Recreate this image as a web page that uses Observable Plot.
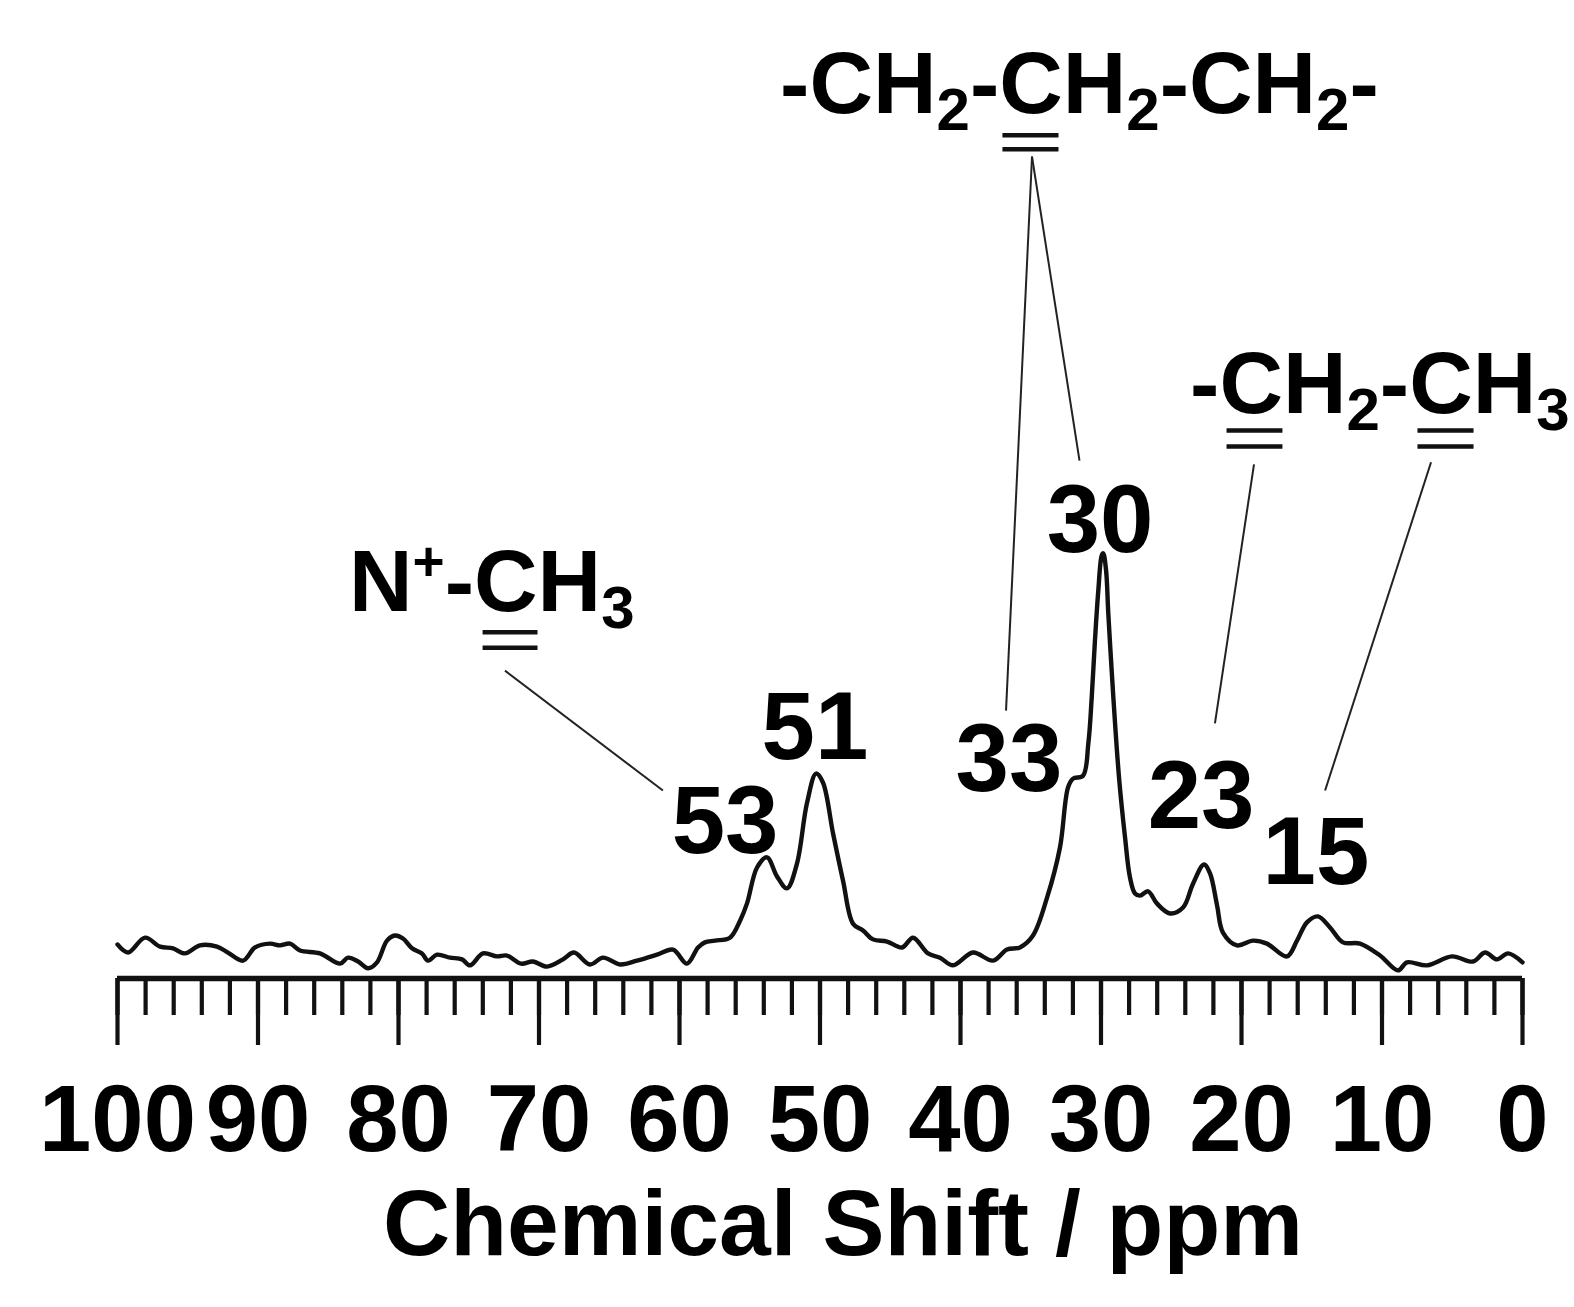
<!DOCTYPE html>
<html>
<head>
<meta charset="utf-8">
<script src="https://cdn.jsdelivr.net/npm/d3@7"></script>
<script src="https://cdn.jsdelivr.net/npm/@observablehq/plot@0.6"></script>
<style>
  html, body { margin: 0; padding: 0; background: #fff; }
  #chart { width: 1574px; height: 1307px; overflow: hidden; }
</style>
</head>
<body>
<div id="chart"></div>
<script>
// ---- Spectrum (13C NMR), chemical shift in ppm, intensity normalised so the 30 ppm peak = 100
const shiftPpm = [
  100.00, 99.25, 98.04, 96.97, 96.05, 95.20, 94.13, 92.92, 92.14, 91.07,
  90.21, 89.15, 88.43, 87.72, 87.01, 85.59, 84.16, 83.59, 82.88, 82.17,
  81.53, 80.82, 80.25, 79.68, 79.04, 78.33, 77.90, 77.26, 76.33, 75.48,
  74.91, 73.99, 72.99, 72.28, 71.28, 70.43, 69.43, 68.29, 67.51, 66.37,
  65.44, 64.23, 63.02, 61.60, 60.46, 59.47, 58.68, 58.19, 57.47, 56.41,
  55.69, 55.20, 54.48, 53.77, 53.06, 52.35, 51.64, 50.93, 50.28, 49.79,
  49.07, 48.36, 47.65, 46.94, 46.23, 45.23, 44.16, 43.38, 42.31, 41.46,
  40.53, 39.11, 37.69, 36.69, 35.77, 34.84, 33.84, 32.92, 32.35, 31.99,
  31.28, 30.90, 30.66, 30.43, 30.19, 29.95, 29.84, 29.64, 29.48, 29.24,
  29.00, 28.70, 28.29, 27.94, 27.58, 27.22, 26.65, 26.01, 25.09, 24.16,
  23.45, 22.67, 22.24, 21.74, 21.32, 20.32, 19.18, 18.19, 16.76, 16.05,
  15.34, 14.56, 13.70, 12.78, 11.57, 10.14, 8.86, 8.22, 6.80, 5.02,
  3.52, 2.67, 1.81, 1.03, 0.00
];
const intensity = [
  8.0, 6.1, 9.6, 7.5, 7.1, 5.9, 7.8, 7.5, 6.1, 4.2,
  7.3, 8.2, 7.8, 8.2, 6.6, 5.9, 3.5, 4.9, 4.0, 2.4,
  3.8, 8.9, 10.1, 9.4, 7.1, 5.9, 4.2, 5.6, 4.9, 4.5,
  3.1, 5.9, 5.2, 5.4, 3.5, 4.0, 2.8, 4.5, 6.1, 3.3,
  4.9, 3.3, 4.2, 5.6, 6.8, 3.5, 7.3, 8.5, 8.9, 9.6,
  13.6, 17.6, 26.1, 28.5, 24.0, 21.2, 27.0, 41.2, 48.2, 46.1,
  34.1, 23.0, 12.9, 11.3, 9.2, 8.7, 7.3, 9.6, 5.9, 4.9,
  3.1, 6.1, 4.2, 6.8, 7.3, 10.1, 19.0, 30.8, 44.9, 47.0,
  47.7, 55.3, 66.1, 79.5, 91.3, 99.5, 100.0, 96.0, 85.8, 72.4,
  60.0, 46.6, 33.2, 23.8, 20.0, 19.5, 20.5, 17.6, 15.3, 16.7,
  22.3, 26.8, 24.7, 17.2, 10.8, 7.8, 8.9, 8.2, 5.2, 8.9,
  13.2, 14.6, 12.0, 8.5, 8.2, 5.4, 1.9, 3.8, 3.1, 5.2,
  4.0, 6.1, 4.5, 5.9, 3.8
];

// ---- Axis
const majorTicks = [100, 90, 80, 70, 60, 50, 40, 30, 20, 10, 0];
const minorTicks = d3.range(0, 101, 2);
const xTitle = "Chemical Shift / ppm";

// ---- Peak labels
const peakLabels   = ["53", "51", "33", "30", "23", "15"];
const peakLabelPpm = [56.76, 50.36, 36.55, 30.07, 22.88, 14.70];
const peakLabelY   = [36.8, 58.9, 51.4, 107.6, 42.7, 29.5];

// ---- Structural formulas (_x = subscript, ^x = superscript)
const formulaText = ["-CH_2-CH_2-CH_2-", "N^+-CH_3", "-CH_2-CH_3"];
const formulaPpm  = [52.84, 83.52, 23.66];
const formulaY    = [203.6, 86.5, 133.1];

// ---- Double underlines under the assigned carbons
const underlineFrom = [36.98, 36.98, 73.98, 73.98, 21.03, 21.03, 7.44, 7.44];
const underlineTo   = [32.99, 32.99, 70.07, 70.07, 17.05, 17.05, 3.45, 3.45];
const underlineY    = [198.3, 195.0, 81.4, 77.8, 128.9, 125.1, 128.9, 125.1];

// ---- Leader lines (formula -> peak label)
const leaderPpm1 = [72.42, 34.91, 34.91, 19.11, 6.51];
const leaderY1   = [72.4, 193.3, 193.3, 120.9, 121.4];
const leaderPpm2 = [61.18, 36.76, 31.53, 21.89, 14.05];
const leaderY2   = [44.2, 63.0, 121.8, 60.0, 44.2];

// ---- Build tables
const spectrum = shiftPpm.map((p, i) => ({ppm: p, v: intensity[i]}));
const labels = peakLabels.map((t, i) => ({t, x: peakLabelPpm[i], y: peakLabelY[i]}));
const formulas = formulaText.map((t, i) => ({t, x: formulaPpm[i], y: formulaY[i]}));
const underlines = underlineY.map((y, i) => ({y, a: underlineFrom[i], b: underlineTo[i]}));
const leaders = leaderPpm1.map((p, i) => ({x1: p, y1: leaderY1[i], x2: leaderPpm2[i], y2: leaderY2[i]}));

const FONT = "'Liberation Sans', Arial, Helvetica, sans-serif";

const chart = Plot.plot({
  width: 1574,
  height: 1307,
  marginLeft: 117,
  marginRight: 52,
  marginTop: 0,
  marginBottom: 329,
  x: {domain: [100, 0]},
  y: {domain: [0, 230], axis: null},
  style: {fontFamily: FONT, fontWeight: "bold", background: "#fff", color: "#000", fontSize: "88px"},
  marks: [
    Plot.axisX({ticks: minorTicks, tickSize: 37, tickFormat: () => "", strokeWidth: 4.2,
                stroke: "#111", label: null}),
    Plot.axisX({ticks: majorTicks, tickSize: 67, tickPadding: 39, strokeWidth: 4.2, stroke: "#111",
                label: null, fontSize: 94, tickFormat: d => String(d)}),
    Plot.ruleY([0], {strokeWidth: 5.5, stroke: "#111"}),
    Plot.line(spectrum, {x: "ppm", y: "v", curve: "catmull-rom", stroke: "#111",
                         strokeWidth: 4.4, strokeLinejoin: "round"}),
    Plot.link(leaders, {x1: "x1", y1: "y1", x2: "x2", y2: "y2", stroke: "#222", strokeWidth: 2}),
    Plot.ruleY(underlines, {y: "y", x1: "a", x2: "b", strokeWidth: 4.5, stroke: "#111"}),
    Plot.text(labels, {x: "x", y: "y", text: "t", fontSize: 96, lineAnchor: "middle", fill: "#000"}),
    Plot.text(formulas, {x: "x", y: "y", text: "t", fontSize: 88, textAnchor: "start",
                         lineAnchor: "bottom", fill: "#000"}),
    Plot.text([xTitle], {frameAnchor: "bottom", text: d => d, dx: 23, dy: 276,
                         lineAnchor: "bottom", fontSize: 93, fill: "#000"})
  ]
});

// Turn the _x / ^x markup of the formulas into real sub/superscript tspans
function richify(root) {
  root.querySelectorAll("text").forEach(t => {
    const s = t.textContent;
    if (!/[_^]/.test(s)) return;
    const segs = [];
    for (let i = 0; i < s.length; i++) {
      const c = s[i];
      if ((c === "_" || c === "^") && i + 1 < s.length) { segs.push({s: s[i + 1], k: c}); i++; }
      else if (segs.length && segs[segs.length - 1].k === "n") segs[segs.length - 1].s += c;
      else segs.push({s: c, k: "n"});
    }
    t.textContent = "";
    let cur = 0;
    for (const g of segs) {
      const target = g.k === "_" ? 17 : g.k === "^" ? -31 : 0;
      const ts = document.createElementNS("http://www.w3.org/2000/svg", "tspan");
      if (target !== cur) ts.setAttribute("dy", target - cur);
      if (g.k !== "n") ts.setAttribute("font-size", g.k === "_" ? 60 : 55);
      ts.textContent = g.s;
      t.appendChild(ts);
      cur = target;
    }
  });
}
richify(chart);
document.getElementById("chart").appendChild(chart);
</script>
</body>
</html>
